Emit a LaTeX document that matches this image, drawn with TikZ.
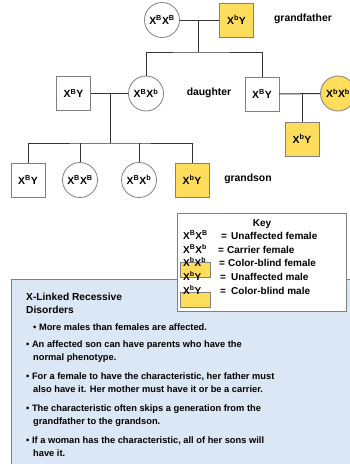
\documentclass[tikz,border=0pt]{standalone}
\usepackage{fontspec}
\setmainfont{Liberation Sans}
\definecolor{pedyellow}{RGB}{255,221,92}
\definecolor{boxgray}{RGB}{128,128,128}
\definecolor{linedark}{RGB}{51,51,51}
\definecolor{panelblue}{RGB}{220,231,245}
\newcommand\gXX[2]{X\textsuperscript{#1}X\textsuperscript{#2}}
\newcommand\gXY[1]{X\textsuperscript{#1}Y}
\begin{document}
\begin{tikzpicture}[x=1pt,y=-1pt,
  font=\bfseries\fontsize{10.4}{12}\selectfont,
  male/.style={draw=boxgray,line width=0.8pt,minimum size=34pt,inner sep=0pt,fill=white},
  female/.style={circle,draw=boxgray,line width=0.8pt,minimum size=35pt,inner sep=0pt,fill=white},
  aff/.style={fill=pedyellow},
  conn/.style={draw=linedark,line width=1pt},
  lbl/.style={inner sep=0pt},
  keytxt/.style={anchor=base west,inner sep=0pt,font=\bfseries\fontsize{10}{11}\selectfont},
  bul/.style={anchor=base west,inner sep=0pt,font=\bfseries\fontsize{9.3}{11}\selectfont}]
\useasboundingbox (0,0) rectangle (350,464);

% ---- generation I
\node[female] (gm) at (162,20) {\gXX{B}{B}};
\node[male,aff] (gf) at (236.5,20) {\gXY{b}};
\node[lbl] (tgf) at (303,19) {grandfather};
\coordinate (gpm) at (198,20);
\coordinate (gpb) at (198,52);
\draw[conn] (gm.east) -- (gf.west);
\draw[conn] (gpm) -- (gpb);

% ---- generation II
\node[male] (f) at (73.5,93.5) {\gXY{B}};
\node[female] (d) at (146,93.5) {\gXX{B}{b}};
\node[lbl] (td) at (209,93) {daughter};
\node[male] (rf) at (262,94) {\gXY{B}};
\node[female,aff] (rw) at (338,93.5) {\gXX{b}{b}};
\node[male,aff] (rs) at (302,139) {\gXY{b}};
\draw[conn] (d.north) |- (gpb) -| (rf.north);
\coordinate (dm) at (110,93.5);
\coordinate (sib) at (110,143);
\draw[conn] (f.east) -- (d.west);
\draw[conn] (dm) -- (sib);
\coordinate (rm) at (302,93.5);
\draw[conn] (rf.east) -- (rw.west);
\draw[conn] (rm) -- (rs.north);

% ---- generation III
\node[male] (c1) at (28,180) {\gXY{B}};
\node[female] (c2) at (80,180) {\gXX{B}{B}};
\node[female] (c3) at (139,180) {\gXX{B}{b}};
\node[male,aff] (c4) at (192,180) {\gXY{b}};
\node[lbl] (tgs) at (248,179) {grandson};
\draw[conn] (c1.north) |- (sib) -| (c4.north);
\draw[conn] (c2.north) -- (c2.north |- sib);
\draw[conn] (c3.north) -- (c3.north |- sib);

% ---- text panel
\draw[boxgray,fill=panelblue,line width=0.8pt] (11,279) rectangle (356,470);
\node[bul,font=\bfseries\fontsize{10.2}{12}\selectfont] (h1) at (26,300.5) {X-Linked Recessive};
\node[bul,font=\bfseries\fontsize{10.2}{12}\selectfont] (h2) at (26,313.5) {Disorders};
\node[bul] (b1) at (33,330.5) {• More males than females are affected.};
\node[bul] (b2a) at (26,347.5) {• An affected son can have parents who have the};
\node[bul] (b2b) at (33,360.5) {normal phenotype.};
\node[bul] (b3a) at (26,379.5) {• For a female to have the characteristic, her father must};
\node[bul] (b3b) at (33,392.5) {also have it. Her mother must have it or be a carrier.};
\node[bul] (b4a) at (26,411.5) {• The characteristic often skips a generation from the};
\node[bul] (b4b) at (33,424.5) {grandfather to the grandson.};
\node[bul] (b5a) at (26,443.5) {• If a woman has the characteristic, all of her sons will};
\node[bul] (b5b) at (33,456.5) {have it.};

% ---- key
\draw[boxgray,fill=white,line width=0.8pt] (177,213) rectangle (346,311);
\fill[pedyellow,draw=boxgray,line width=0.5pt] (180,262) rectangle (210,277);
\fill[pedyellow,draw=boxgray,line width=0.5pt] (180,292) rectangle (210,307);
\node[keytxt,anchor=base] (kt) at (262,226.5) {Key};
\node[keytxt] (k1s) at (183,239.5) {\gXX{B}{B}};
\node[keytxt] (k1e) at (221,239.5) {=};
\node[keytxt] (k1t) at (231,239.5) {Unaffected female};
\node[keytxt] (k2s) at (183,253.5) {\gXX{B}{b}};
\node[keytxt] (k2e) at (218,253.5) {=};
\node[keytxt] (k2t) at (227,253.5) {Carrier female};
\node[keytxt] (k3s) at (183,266.5) {\gXX{b}{b}};
\node[keytxt] (k3e) at (219,266.5) {=};
\node[keytxt] (k3t) at (228,266.5) {Color-blind female};
\node[keytxt] (k4s) at (183,280.5) {\gXY{b}};
\node[keytxt] (k4e) at (220,280.5) {=};
\node[keytxt] (k4t) at (231,280.5) {Unaffected male};
\node[keytxt] (k5s) at (183,294.5) {\gXY{b}};
\node[keytxt] (k5e) at (220,294.5) {=};
\node[keytxt] (k5t) at (231,294.5) {Color-blind male};
\end{tikzpicture}
\end{document}
